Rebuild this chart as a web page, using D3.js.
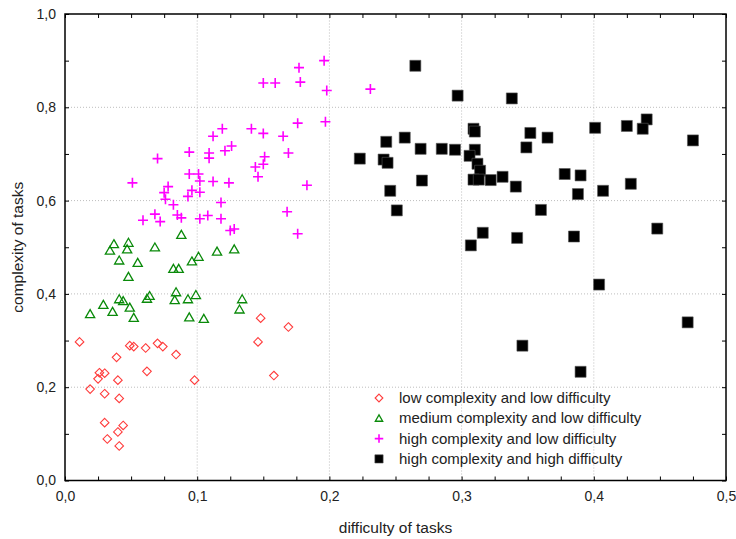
<!DOCTYPE html>
<html><head><meta charset="utf-8">
<script src="https://cdn.jsdelivr.net/npm/d3@7"></script>
<style>body{margin:0;background:#fff}svg{display:block}text{font-family:"Liberation Sans",Arial,sans-serif}</style>
</head><body>
<script>
const seriesNames = ["low complexity and low difficulty","medium complexity and low difficulty","high complexity and low difficulty","high complexity and high difficulty"];
const xTicks = [0,0.1,0.2,0.3,0.4,0.5];
const yTicks = [0,0.2,0.4,0.6,0.8,1.0];
const lowLow = [[0.011,0.297],[0.049,0.289],[0.052,0.287],[0.061,0.284],[0.070,0.294],[0.074,0.287],[0.039,0.264],[0.084,0.270],[0.026,0.231],[0.030,0.230],[0.025,0.218],[0.040,0.215],[0.062,0.234],[0.098,0.215],[0.019,0.196],[0.030,0.186],[0.041,0.176],[0.030,0.124],[0.044,0.118],[0.040,0.104],[0.032,0.089],[0.041,0.074],[0.148,0.348],[0.169,0.329],[0.146,0.297],[0.158,0.225]];
const medLow = [[0.088,0.527],[0.037,0.507],[0.034,0.493],[0.048,0.510],[0.047,0.496],[0.068,0.500],[0.041,0.472],[0.055,0.467],[0.082,0.454],[0.086,0.454],[0.096,0.470],[0.101,0.480],[0.048,0.437],[0.041,0.389],[0.044,0.385],[0.049,0.371],[0.052,0.349],[0.029,0.377],[0.036,0.362],[0.019,0.357],[0.062,0.390],[0.064,0.396],[0.084,0.404],[0.083,0.387],[0.093,0.389],[0.099,0.398],[0.094,0.350],[0.115,0.491],[0.128,0.496],[0.134,0.389],[0.132,0.367],[0.105,0.347]];
const highLow = [[0.150,0.852],[0.159,0.852],[0.177,0.885],[0.178,0.854],[0.196,0.900],[0.198,0.836],[0.231,0.839],[0.176,0.766],[0.197,0.769],[0.119,0.754],[0.112,0.738],[0.141,0.754],[0.150,0.744],[0.165,0.738],[0.094,0.704],[0.109,0.702],[0.109,0.691],[0.121,0.707],[0.126,0.717],[0.169,0.702],[0.151,0.694],[0.150,0.678],[0.144,0.672],[0.146,0.651],[0.070,0.690],[0.051,0.638],[0.078,0.630],[0.075,0.617],[0.076,0.603],[0.082,0.591],[0.094,0.657],[0.101,0.657],[0.102,0.642],[0.112,0.641],[0.124,0.638],[0.096,0.622],[0.102,0.618],[0.093,0.609],[0.118,0.596],[0.068,0.571],[0.072,0.555],[0.059,0.558],[0.085,0.569],[0.088,0.563],[0.102,0.561],[0.108,0.568],[0.118,0.561],[0.125,0.536],[0.128,0.539],[0.168,0.576],[0.176,0.529],[0.183,0.633]];
const highHigh = [[0.265,0.889],[0.297,0.825],[0.338,0.819],[0.243,0.726],[0.257,0.735],[0.223,0.690],[0.241,0.688],[0.244,0.681],[0.269,0.711],[0.285,0.711],[0.295,0.709],[0.270,0.643],[0.246,0.621],[0.251,0.579],[0.309,0.754],[0.310,0.748],[0.310,0.709],[0.306,0.696],[0.312,0.679],[0.314,0.664],[0.309,0.645],[0.313,0.645],[0.322,0.644],[0.331,0.651],[0.316,0.531],[0.307,0.504],[0.352,0.745],[0.365,0.735],[0.349,0.714],[0.401,0.756],[0.425,0.760],[0.440,0.774],[0.437,0.754],[0.475,0.729],[0.378,0.657],[0.390,0.654],[0.388,0.614],[0.407,0.621],[0.428,0.636],[0.341,0.630],[0.360,0.580],[0.342,0.520],[0.385,0.523],[0.448,0.540],[0.404,0.420],[0.471,0.339],[0.346,0.289],[0.390,0.233]];

const W=736,H=539;
const m={l:65,t:14,r:10,b:58.5};
const svg=d3.select("body").append("svg").attr("width",W).attr("height",H);
const x=d3.scaleLinear().domain([0,0.5]).range([m.l,W-m.r]);
const y=d3.scaleLinear().domain([0,1]).range([H-m.b,m.t]);
const fmt=d=>d3.format(".1f")(d).replace(".",",");
const FONT="Liberation Sans, Arial, sans-serif";

// grid
const g=svg.append("g");
g.selectAll("line.gx").data(xTicks.slice(1,-1)).join("line")
 .attr("x1",d=>x(d)).attr("x2",d=>x(d)).attr("y1",y(0)).attr("y2",y(1))
 .attr("stroke","#bdbdbd").attr("stroke-dasharray","1,2");
g.selectAll("line.gy").data(yTicks.slice(1,-1)).join("line")
 .attr("y1",d=>y(d)).attr("y2",d=>y(d)).attr("x1",x(0)).attr("x2",x(0.5))
 .attr("stroke","#bdbdbd").attr("stroke-dasharray","1,2");

// axes with inward ticks
const xMinor=d3.range(0,0.5001,0.025);
const yMinor=d3.range(0,1.0001,0.1);
svg.append("g").attr("transform",`translate(0,${y(0)})`)
 .call(d3.axisTop(x).tickValues(xMinor).tickSize(4).tickFormat(""))
 .call(a=>{a.select(".domain").remove();a.selectAll("line").attr("stroke","#000");});
svg.append("g").attr("transform",`translate(0,${y(1)})`)
 .call(d3.axisBottom(x).tickValues(xMinor).tickSize(4).tickFormat(""))
 .call(a=>{a.select(".domain").remove();a.selectAll("line").attr("stroke","#000");});
svg.append("g").attr("transform",`translate(${x(0)},0)`)
 .call(d3.axisRight(y).tickValues(yMinor).tickSize(4).tickFormat(""))
 .call(a=>{a.select(".domain").remove();a.selectAll("line").attr("stroke","#000");});
svg.append("g").attr("transform",`translate(${x(0.5)},0)`)
 .call(d3.axisLeft(y).tickValues(yMinor).tickSize(4).tickFormat(""))
 .call(a=>{a.select(".domain").remove();a.selectAll("line").attr("stroke","#000");});

// tick labels
svg.append("g").attr("transform",`translate(0,${y(0)})`)
 .call(d3.axisBottom(x).tickValues(xTicks).tickSize(0).tickPadding(11).tickFormat(fmt))
 .call(a=>{a.select(".domain").remove();a.selectAll("text").attr("font-size",14).attr("fill","#222").attr("font-family",FONT);});
svg.append("g").attr("transform",`translate(${x(0)},0)`)
 .call(d3.axisLeft(y).tickValues(yTicks).tickSize(0).tickPadding(9).tickFormat(fmt))
 .call(a=>{a.select(".domain").remove();a.selectAll("text").attr("font-size",14).attr("fill","#222").attr("font-family",FONT);});

// frame
svg.append("rect").attr("x",x(0)).attr("y",y(1)).attr("width",x(0.5)-x(0)).attr("height",y(0)-y(1))
 .attr("fill","none").attr("stroke","#000").attr("stroke-width",1.5);

// axis titles
svg.append("text").attr("x",(x(0)+x(0.5))/2).attr("y",533).attr("text-anchor","middle")
 .attr("font-size",15.5).attr("fill","#222").text("difficulty of tasks");
svg.append("text").attr("transform",`translate(23,${(y(0)+y(1))/2}) rotate(-90)`).attr("text-anchor","middle")
 .attr("font-size",15.5).attr("fill","#222").text("complexity of tasks");

// markers
const diamond="M0,-4.3L4.3,0L0,4.3L-4.3,0Z";
const tri="M0,-4.3L4.6,3.7L-4.6,3.7Z";
const plus="M-5,0H5M0,-5V5";
const sq="M-5.5,-5.5H5.5V5.5H-5.5Z";
const styles=[
 {d:diamond,fill:"none",stroke:"#ff3b3b",sw:1.1,data:lowLow},
 {d:tri,fill:"none",stroke:"#0a8a0a",sw:1.3,data:medLow},
 {d:plus,fill:"none",stroke:"#ff00ff",sw:1.6,data:highLow},
 {d:sq,fill:"#000",stroke:"#555",sw:0.6,data:highHigh}];
const pl=svg.append("g");
styles.forEach(s=>{
 pl.append("g").selectAll("path").data(s.data).join("path")
  .attr("transform",d=>`translate(${x(d[0])},${y(d[1])})`)
  .attr("d",s.d).attr("fill",s.fill).attr("stroke",s.stroke).attr("stroke-width",s.sw);
});

// legend
const lg=svg.append("g");
seriesNames.forEach((n,i)=>{
 const cy=398+i*20.3;
 const s=styles[i];
 const sc = i===3?0.75:(i===2?0.85:(i===1?0.8:0.9));
 lg.append("path").attr("transform",`translate(379,${cy}) scale(${sc})`).attr("d",s.d)
  .attr("fill",s.fill).attr("stroke",s.stroke).attr("stroke-width",s.sw/sc);
 lg.append("text").attr("x",399).attr("y",cy+5).attr("font-size",15).attr("fill","#222").text(n);
});
</script>
</body></html>
